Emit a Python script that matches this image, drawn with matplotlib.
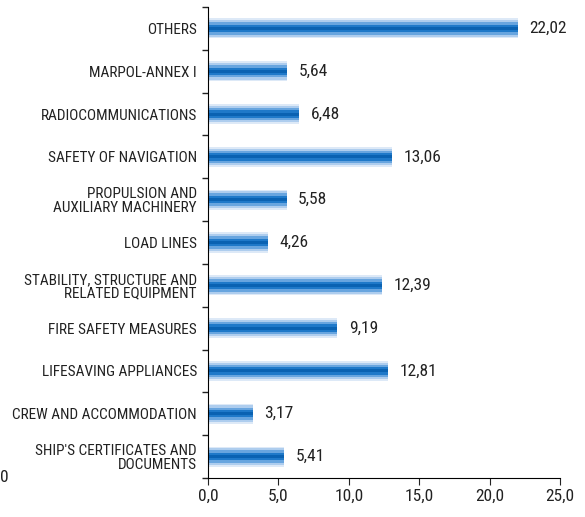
import matplotlib.pyplot as plt
import numpy as np

categories = ["SHIP'S CERTIFICATES AND\nDOCUMENTS", "CREW AND ACCOMMODATION",
              "LIFESAVING APPLIANCES", "FIRE SAFETY MEASURES",
              "STABILITY, STRUCTURE AND\nRELATED EQUIPMENT", "LOAD LINES",
              "PROPULSION AND\nAUXILIARY MACHINERY", "SAFETY OF NAVIGATION",
              "RADIOCOMMUNICATIONS", "MARPOL-ANNEX I", "OTHERS"]
values = [5.41, 3.17, 12.81, 9.19, 12.39, 4.26, 5.58, 13.06, 6.48, 5.64, 22.02]
xticks = [0, 5, 10, 15, 20, 25]

plt.rcParams['font.family'] = ['Roboto Condensed', 'DejaVu Sans']
plt.rcParams['text.color'] = '#222222'
plt.rcParams['xtick.color'] = '#222222'
plt.rcParams['ytick.color'] = '#222222'

fig = plt.figure(figsize=(5.85, 5.17), dpi=100)
ax = fig.add_axes([208/585, 1-478/517, 352/585, 471/517])

y = np.arange(len(categories))
# layered bars to fake the cylinder gradient
layers = [(0.47, '#dde9f7'), (0.39, '#aecdee'), (0.29, '#68a5df'), (0.17, '#1f79c9'), (0.07, '#0a62b2')]
for h, c in layers:
    ax.barh(y, values, height=h, color=c, linewidth=0)

for yi, v in zip(y, values):
    ax.text(v + 0.8, yi, ('%.2f' % v).replace('.', ','), va='center', ha='left', fontsize=12.5)

ax.set_xlim(0, 25)
ax.set_ylim(-0.5, len(categories) - 0.5)
ax.set_xticks(xticks)
ax.set_xticklabels([('%.1f' % t).replace('.', ',') for t in xticks], fontsize=12.5)
ax.set_yticks(y)
ax.set_yticklabels(categories, fontsize=11, linespacing=1.0)
ax.tick_params(axis='y', length=0, pad=8)
ax.set_yticks(np.arange(-0.5, len(categories), 1), minor=True)
ax.tick_params(axis='y', which='minor', length=4, width=1)
ax.tick_params(axis='x', length=5, pad=3)

for s in ['top', 'right']:
    ax.spines[s].set_visible(False)

fig.text(4/585, 1-478/517, '0', fontsize=12.5, ha='center', va='center')

fig.savefig('out.png', dpi=100)
